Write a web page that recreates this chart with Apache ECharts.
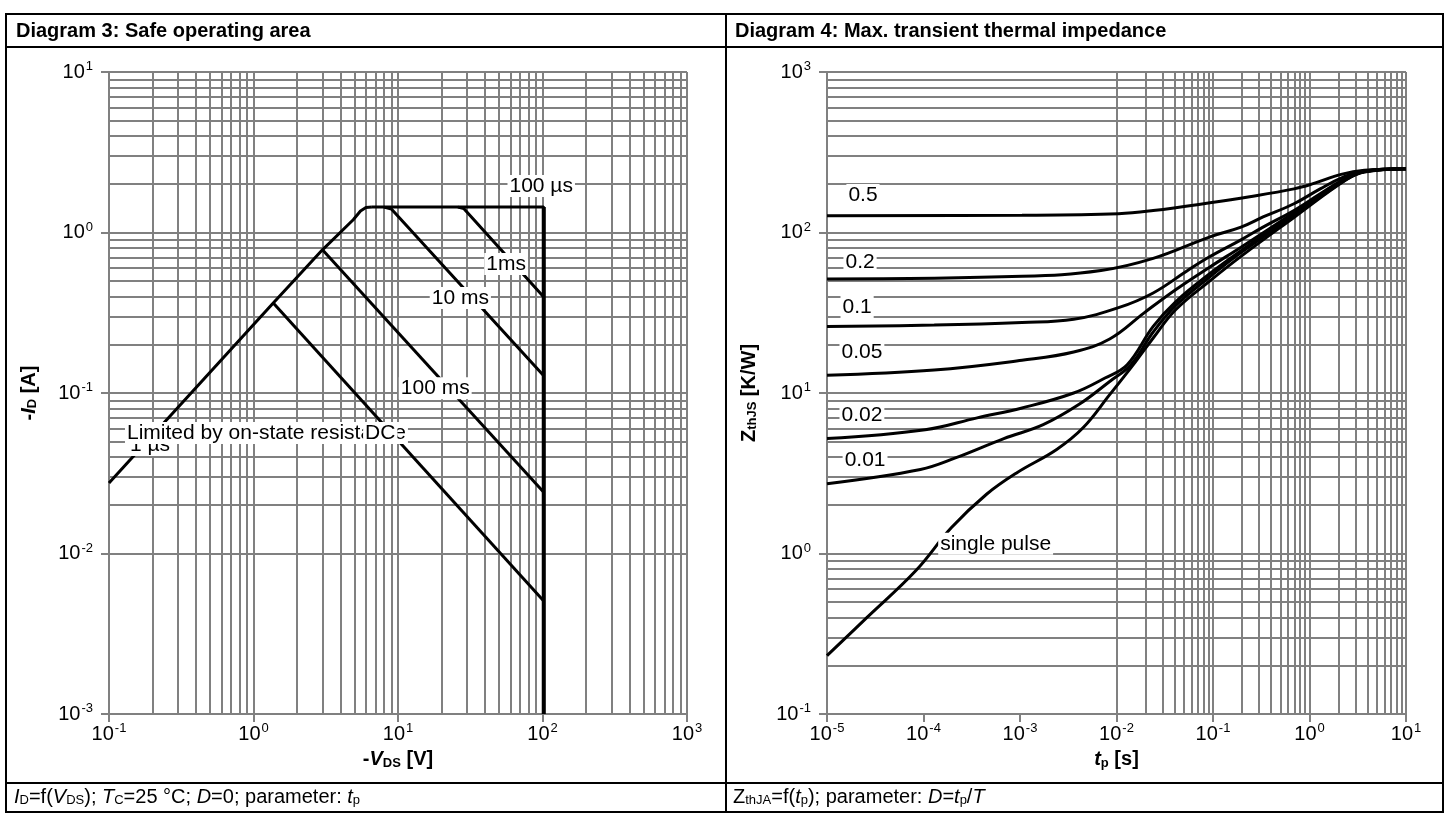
<!DOCTYPE html>
<html><head><meta charset="utf-8">
<script src="https://cdn.jsdelivr.net/npm/echarts@6/dist/echarts.min.js"></script>
<style>html,body{margin:0;padding:0;background:#fff}#c{width:1446px;height:814px}</style>
</head><body><div id="c"></div>
<script>
// ---------- Diagram 3: Safe operating area (x: -VDS [V], y: -ID [A]) ----------
const soaRds   = [[0.1,0.0275],[1.37,0.364],[3.0,0.78],[4.9,1.2],[5.5,1.36],[6.0,1.43],[6.6,1.44]];
const soa100us = [[6.6,1.44],[102,1.44],[102,0.001]];
const soa1ms   = [[26,1.44],[28.5,1.41],[102,0.396]];
const soa10ms  = [[8.0,1.44],[9.0,1.40],[102,0.128]];
const soa100ms = [[3.0,0.78],[102,0.0241]];
const soaDC    = [[1.37,0.364],[102,0.00506]];
const soaLabels = [
  {name:'100 µs', v:[98,1.95]},
  {name:'1ms', v:[56,0.637]},
  {name:'10 ms', v:[27,0.391]},
  {name:'100 ms', v:[18.1,0.107]}
];
const soaLabelUnder = {name:'1 µs', v:[0.192,0.0474]};
const soaLabelRds = {name:'Limited by on-state resistance', v:[0.129,0.0563]};
const soaLabelDC = {name:'DC', v:[7.54,0.0563]};

// ---------- Diagram 4: Max. transient thermal impedance (x: tp [s], y: ZthJS [K/W]) ----------
const zth05 = [[1e-5,127],[1.05e-3,128],[0.0105,131],[0.024,137],[0.093,153],[0.24,167],[0.69,187],[1.05,200],[2.18,231],[3.7,244],[10,250]];
const zth02 = [[1e-5,51.3],[1.05e-3,53.3],[6.9e-3,58],[0.024,69],[0.093,94],[0.195,108],[0.33,125],[0.69,151],[1.29,187],[2.18,220],[3.7,242],[10,250]];
const zth01 = [[1e-5,26],[1.29e-4,26.5],[1.05e-3,27.5],[3.6e-3,28.8],[0.0105,34],[0.024,42],[0.056,58.6],[0.093,70.8],[0.195,90],[0.33,108],[0.69,137],[1.29,174],[2.43,220],[3.7,242],[10,250]];
const zth005 = [[1e-5,12.9],[1.29e-4,13.9],[1.05e-3,16],[3.6e-3,18],[8.5e-3,21.7],[0.0195,31.7],[0.041,44],[0.093,61],[0.195,81],[0.69,133],[2.4,216],[3.7,240],[10,250]];
const zth002 = [[1e-5,5.2],[1.04e-4,5.9],[3.6e-4,7.0],[1.05e-3,8.07],[3.6e-3,10],[7.6e-3,12.4],[0.0129,15],[0.024,26],[0.041,37],[0.093,55.5],[0.195,77],[0.69,130],[2.4,215],[3.7,240],[10,250]];
const zth001 = [[1e-5,2.72],[9.3e-5,3.34],[2.14e-4,3.94],[6.8e-4,5.2],[1.74e-3,6.35],[4.1e-3,8.5],[8.5e-3,11.8],[0.0141,15],[0.024,24],[0.041,35],[0.093,53],[0.195,75],[0.69,127],[2.4,214],[3.7,239],[10,250]];
const zthSingle = [[1e-5,0.231],[2.6e-5,0.40],[8.3e-5,0.78],[1.95e-4,1.45],[4.5e-4,2.34],[9.3e-4,3.19],[2.4e-3,4.45],[4.5e-3,6.07],[8.5e-3,9.77],[0.0158,15.7],[0.024,22],[0.041,33],[0.093,50],[0.195,71],[0.69,124],[2.4,213],[3.7,238],[10,250]];
const zthLabels = [
  {name:'0.5', v:[2.36e-5,171]},
  {name:'0.2', v:[2.2e-5,65.5]},
  {name:'0.1', v:[2.05e-5,34.3]},
  {name:'0.05', v:[2.3e-5,18.0]},
  {name:'0.02', v:[2.3e-5,7.29]},
  {name:'0.01', v:[2.48e-5,3.83]}
];
const zthLabelSingle = {name:'single pulse', v:[1.42e-4,1.15]};

// axis ranges (decade exponents)
const soaXExp = [-1, 3], soaYExp = [-3, 1];
const zthXExp = [-5, 1], zthYExp = [-1, 3];

const FONT = '"Liberation Sans", Arial, sans-serif';
const GRID_C = '#808080';
const chart = echarts.init(document.getElementById('c'), null, {renderer:'canvas'});

function decadeVals(e0, e1){
  const a = [];
  for (let e = e0; e < e1; e++) for (let m = 1; m <= 9; m++) a.push(m * Math.pow(10, e));
  a.push(Math.pow(10, e1));
  return a;
}
const supRich = {
  b:{fontSize:20, fontFamily:FONT, color:'#000', lineHeight:24},
  s:{fontSize:13, fontFamily:FONT, color:'#000', verticalAlign:'top', lineHeight:24, padding:[0,0,10,1]}
};
function expFmt(v){ return '{b|10}{s|' + Math.round(Math.log10(v)) + '}'; }

function logAxis(exps, gridIndex, isX, nameRich, name, nameGap){
  return {
    type:'log', logBase:10, gridIndex,
    min:Math.pow(10,exps[0]), max:Math.pow(10,exps[1]), interval:1,
    axisLine:{show:true, onZero:false, lineStyle:{color:GRID_C, width:2}},
    axisTick:{show:true, inside:false, length:8, lineStyle:{color:GRID_C, width:2}},
    splitLine:{show:false}, minorTick:{show:false}, minorSplitLine:{show:false},
    axisLabel:{show:true, formatter:expFmt, rich:supRich, margin: isX ? 8 : 16, showMinLabel:true, showMaxLabel:true},
    name, nameLocation:'middle', nameGap, nameRotate: isX ? 0 : 90,
    nameTextStyle:{rich:nameRich}
  };
}
const nameRich = {
  n:{fontSize:20, fontWeight:'bold', fontFamily:FONT, color:'#000'},
  i:{fontSize:20, fontWeight:'bold', fontStyle:'italic', fontFamily:FONT, color:'#000'},
  sub:{fontSize:13, fontWeight:'bold', fontFamily:FONT, color:'#000', verticalAlign:'bottom', padding:[6,0,0,0]}
};

function gridLines(xi, yi, xExp, yExp){
  const d = [];
  decadeVals(xExp[0], xExp[1]).forEach(v => d.push({xAxis:v}));
  decadeVals(yExp[0], yExp[1]).forEach(v => d.push({yAxis:v}));
  return {
    type:'line', xAxisIndex:xi, yAxisIndex:yi, data:[], z:1, silent:true,
    markLine:{z:1, silent:true, symbol:['none','none'], animation:false, label:{show:false},
      lineStyle:{color:GRID_C, width:2, type:'solid'}, emphasis:{disabled:true}, data:d}
  };
}
function curve(data, xi, yi, smooth, width){
  return {type:'line', xAxisIndex:xi, yAxisIndex:yi, data, showSymbol:false, symbol:'none',
    smooth: smooth ? 0.4 : false,
    lineStyle:{color:'#000', width: width || 3}, z:3, silent:true};
}
function labelSeries(items, xi, yi, z, leftAlign){
  return {type:'scatter', xAxisIndex:xi, yAxisIndex:yi, symbolSize:0, z, silent:true,
    itemStyle:{opacity:1}, emphasis:{disabled:true},
    data: items.map(it => ({value:it.v, name:it.name})),
    label:{show:true, formatter:p => p.name, position: leftAlign ? 'right' : 'inside', distance:0,
      fontSize:21, fontFamily:FONT, color:'#000', opacity:1, textBorderWidth:0, textBorderColor:'transparent',
      textShadowBlur:0, backgroundColor:'#fff', padding:[1,2,0,2]}};
}

const ftRich = {
  n:{fontSize:20, fontFamily:FONT, color:'#000'},
  i:{fontSize:20, fontFamily:FONT, fontStyle:'italic', color:'#000'},
  sub:{fontSize:13, fontFamily:FONT, color:'#000', verticalAlign:'bottom', padding:[7,0,0,0]}
};

const option = {
  animation:false,
  backgroundColor:'#fff',
  grid:[
    {left:109, top:72, width:578, height:642},
    {left:827, top:72, width:579, height:642}
  ],
  xAxis:[
    logAxis(soaXExp, 0, true, nameRich, '{n|-}{i|V}{sub|DS}{n| [V]}', 23),
    logAxis(zthXExp, 1, true, nameRich, '{i|t}{sub|p}{n| [s]}', 23)
  ],
  yAxis:[
    logAxis(soaYExp, 0, false, nameRich, '{n|-}{i|I}{sub|D}{n| [A]}', 70),
    logAxis(zthYExp, 1, false, nameRich, '{n|Z}{sub|thJS}{n| [K/W]}', 68)
  ],
  series:[
    gridLines(0,0,soaXExp,soaYExp),
    gridLines(1,1,zthXExp,zthYExp),
    curve(soaRds,0,0), curve(soa100us,0,0), curve(soa1ms,0,0), curve(soa10ms,0,0),
    curve(soa100ms,0,0), curve(soaDC,0,0),
    {type:'line', xAxisIndex:0, yAxisIndex:0, data:[soa100us[1], soa100us[2]], showSymbol:false, symbol:'none', lineStyle:{color:'#000', width:4}, z:3, silent:true},
    labelSeries(soaLabels,0,0,5,false),
    labelSeries([soaLabelUnder],0,0,4,false),
    labelSeries([soaLabelRds],0,0,5,true),
    labelSeries([soaLabelDC],0,0,6,false),
    curve(zth05,1,1,true), curve(zth02,1,1,true), curve(zth01,1,1,true), curve(zth005,1,1,true),
    curve(zth002,1,1,true), curve(zth001,1,1,true), curve(zthSingle,1,1,true),
    labelSeries(zthLabels,1,1,5,false),
    labelSeries([zthLabelSingle],1,1,5,true)
  ],
  graphic:[
    {type:'rect', shape:{x:6, y:14, width:1437, height:798}, style:{fill:'none', stroke:'#000', lineWidth:2}, z:10},
    {type:'line', shape:{x1:6, y1:47, x2:1443, y2:47}, style:{stroke:'#000', lineWidth:2}, z:10},
    {type:'line', shape:{x1:6, y1:783, x2:1443, y2:783}, style:{stroke:'#000', lineWidth:2}, z:10},
    {type:'line', shape:{x1:726, y1:14, x2:726, y2:812}, style:{stroke:'#000', lineWidth:2}, z:10},
    {type:'text', x:16, y:31, z:10, style:{text:'Diagram 3: Safe operating area', fontSize:20, fontWeight:'bold', fontFamily:FONT, fill:'#000', verticalAlign:'middle'}},
    {type:'text', x:735, y:31, z:10, style:{text:'Diagram 4: Max. transient thermal impedance', fontSize:20, fontWeight:'bold', fontFamily:FONT, fill:'#000', verticalAlign:'middle'}},
    {type:'text', x:14, y:797, z:10, style:{text:'{i|I}{sub|D}{n|=f(}{i|V}{sub|DS}{n|); }{i|T}{sub|C}{n|=25 °C; }{i|D}{n|=0; parameter: }{i|t}{sub|p}', rich:ftRich, verticalAlign:'middle'}},
    {type:'text', x:733, y:797, z:10, style:{text:'{n|Z}{sub|thJA}{n|=f(}{i|t}{sub|p}{n|); parameter: }{i|D}{n|=}{i|t}{sub|p}{n|/}{i|T}', rich:ftRich, verticalAlign:'middle'}}
  ]
};
chart.setOption(option);
</script></body></html>
